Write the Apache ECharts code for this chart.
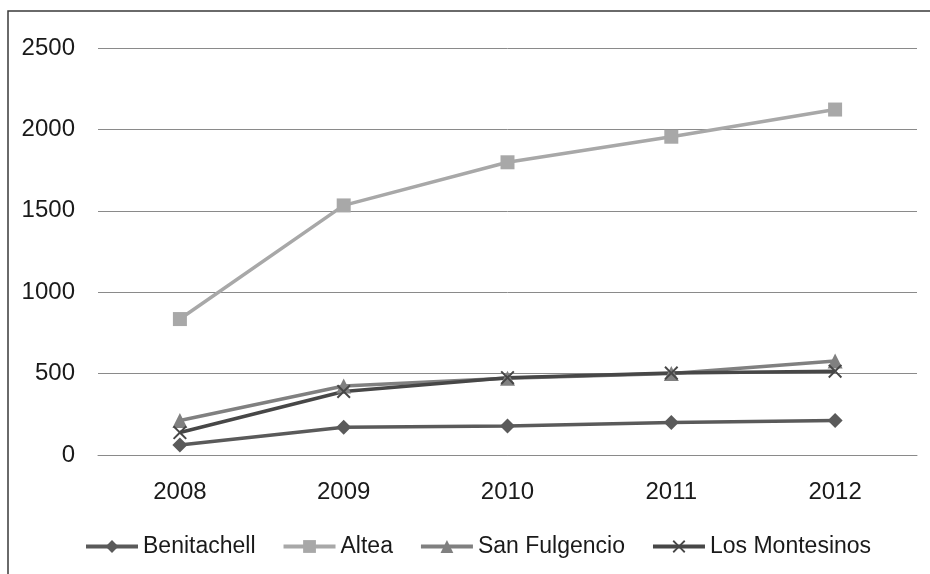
<!DOCTYPE html>
<html>
<head>
<meta charset="utf-8">
<script src="https://cdn.jsdelivr.net/npm/echarts@6/dist/echarts.min.js"></script>
<style>html,body{margin:0;padding:0;background:#fff;}#c{width:930px;height:574px;}</style>
</head>
<body>
<div id="c"></div>
<script>
var years = ['2008', '2009', '2010', '2011', '2012'];
var benitachell = [62, 170, 178, 200, 212];
var altea = [835, 1533, 1798, 1955, 2122];
var sanFulgencio = [212, 424, 472, 500, 578];
var losMontesinos = [138, 390, 475, 503, 515];
var yTicks = [0, 500, 1000, 1500, 2000, 2500];

var chart = echarts.init(document.getElementById('c'));
var font = 'Liberation Sans';
var xMark = 'path://M0,1L1,0L5,4L9,0L10,1L6,5L10,9L9,10L5,6L1,10L0,9L4,5Z';
function s(name, data, color, symbol, size) {
  return {
    name: name, type: 'line', data: data, symbol: symbol, symbolSize: size,
    lineStyle: {color: color, width: 3.5},
    itemStyle: {color: color},
    emphasis: {disabled: true},
    animation: false
  };
}
chart.setOption({
  animation: false,
  backgroundColor: '#fff',
  graphic: [{
    type: 'rect', shape: {x: 8, y: 11, width: 1000, height: 1000},
    style: {fill: 'none', stroke: '#3a3a3a', lineWidth: 1.5}, silent: true, z: 100
  }],
  grid: {left: 98, right: 13, top: 48, bottom: 119},
  legend: {
    top: 530, left: 79, itemWidth: 52, itemHeight: 16, itemGap: 26,
    lineStyle: {width: 4},
    textStyle: {fontFamily: font, fontSize: 23, color: '#1a1a1a'},
    data: ['Benitachell', 'Altea', 'San Fulgencio', 'Los Montesinos']
  },
  xAxis: {
    type: 'category', data: years, boundaryGap: true,
    axisLine: {show: true, lineStyle: {color: '#8a8a8a', width: 1}},
    axisTick: {show: false},
    axisLabel: {fontFamily: font, fontSize: 24, color: '#1a1a1a', margin: 25}
  },
  yAxis: {
    type: 'value', min: yTicks[0], max: yTicks[yTicks.length - 1], interval: 500,
    axisLine: {show: false}, axisTick: {show: false},
    splitLine: {lineStyle: {color: '#8a8a8a', width: 1}},
    axisLabel: {fontFamily: font, fontSize: 24, color: '#1a1a1a', margin: 23,
      formatter: function (v) { return String(v); }}
  },
  series: [
    s('Benitachell', benitachell, '#5a5a5a', 'diamond', 15),
    s('Altea', altea, '#a8a8a8', 'rect', 14),
    s('San Fulgencio', sanFulgencio, '#808080', 'triangle', 15),
    s('Los Montesinos', losMontesinos, '#474747', xMark, 14)
  ]
});
</script>
</body>
</html>
